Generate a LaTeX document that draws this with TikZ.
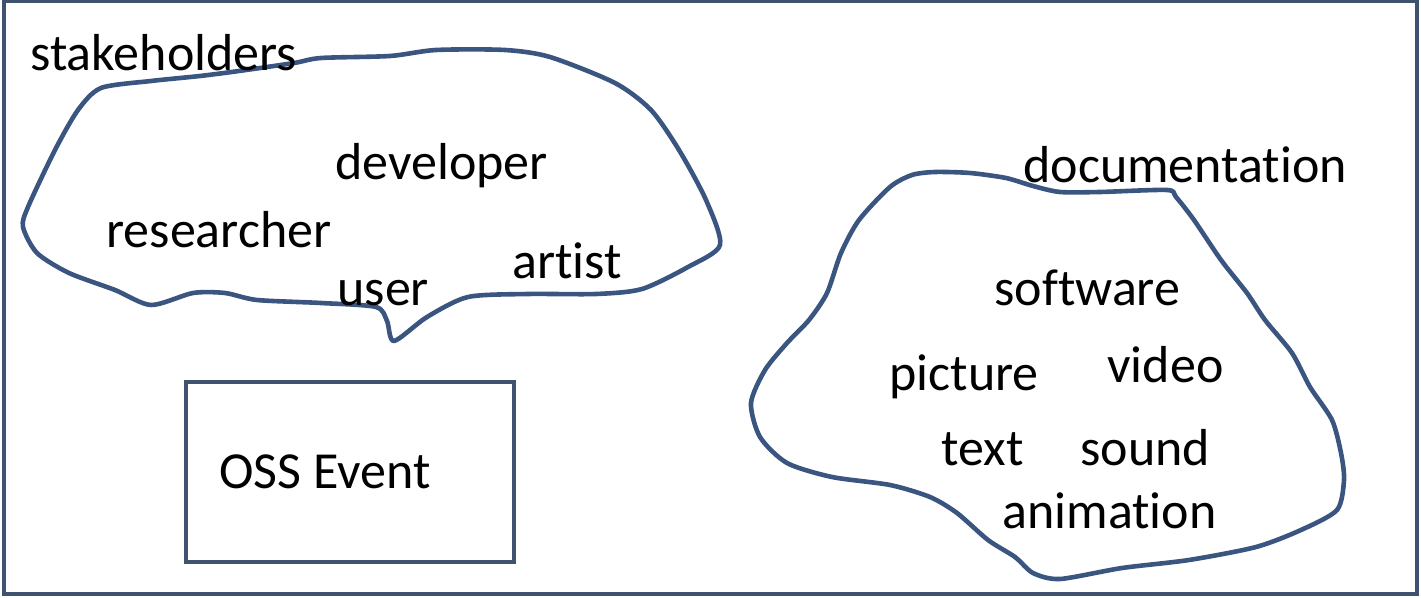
\documentclass[tikz,border=0pt]{standalone}
\usepackage{fontspec}
\setmainfont[RawFeature=-liga]{Carlito}
\usepackage{tikz}

\definecolor{framecol}{HTML}{3F526E}
\definecolor{blobcol}{HTML}{3A5580}

\tikzset{
	word/.style={anchor=base west, inner sep=0pt, font=\fontsize{26}{30}\selectfont},
	blob/.style={draw=blobcol, line width=2.3pt, line join=round},
	eventbox/.style={draw=framecol, line width=2.4pt, rectangle, inner sep=0pt,
		minimum width=164pt, minimum height=90pt}
}

\begin{document}
\begin{tikzpicture}[x=0.5pt, y=-0.5pt]
	\useasboundingbox (0,0) rectangle (1421,598);
	\draw[framecol, line width=2.2pt] (4,1) rectangle (1417,594);

	% stakeholders cloud
	\draw[blob] plot[smooth cycle, tension=0.45] coordinates {
		(78,110) (101,88) (151,81) (200,76) (239,71) (294,63) (321,58)
		(390,56) (436,50) (505,50) (550,57) (615,83) (651,110) (679,150)
		(706,200) (720,245) (688,267) (642,289) (596,294) (528,294)
		(468,297) (427,317) (394,341) (387,321) (376,307) (321,303)
		(257,300) (225,293) (193,293) (151,305) (115,290) (69,273)
		(37,253) (23,227) (28,207) (55,150)};

	% documentation cloud
	\draw[blob] plot[smooth cycle, tension=0.45] coordinates {
		(935,172) (970,173) (1006,178) (1033,186) (1060,192) (1100,192)
		(1167,190) (1176,197) (1194,220) (1221,260) (1247,293) (1265,320)
		(1292,353) (1310,387) (1332,420) (1341,453) (1344,480) (1337,510)
		(1301,530) (1256,547) (1189,560) (1122,568) (1060,579) (1033,573)
		(1015,557) (988,540) (957,513) (930,497) (890,485) (832,477)
		(787,463) (760,437) (751,403) (765,370) (787,343) (809,320)
		(827,293) (841,253) (859,220) (890,187) (912,175)};

	\node[word] (stakeholders) at (30,71)   {stakeholders};
	\node[word] (developer)    at (335,180) {developer};
	\node[word] (researcher)   at (106,248) {researcher};
	\node[word] (artist)       at (512,279) {artist};
	\node[word] (user)         at (337,306) {user};

	\node[word] (documentation) at (1023,183) {documentation};
	\node[word] (software)      at (994,306)  {software};
	\node[word] (picture)       at (889,391)  {picture};
	\node[word] (video)         at (1107,383) {video};
	\node[word] (text)          at (941,466)  {text};
	\node[word] (sound)         at (1080,466) {sound};
	\node[word] (animation)     at (1002,529) {animation};

	\node[eventbox] (event) at (350,472) {};
	\node[word] (eventname) at (219,489) {OSS Event};
\end{tikzpicture}
\end{document}
